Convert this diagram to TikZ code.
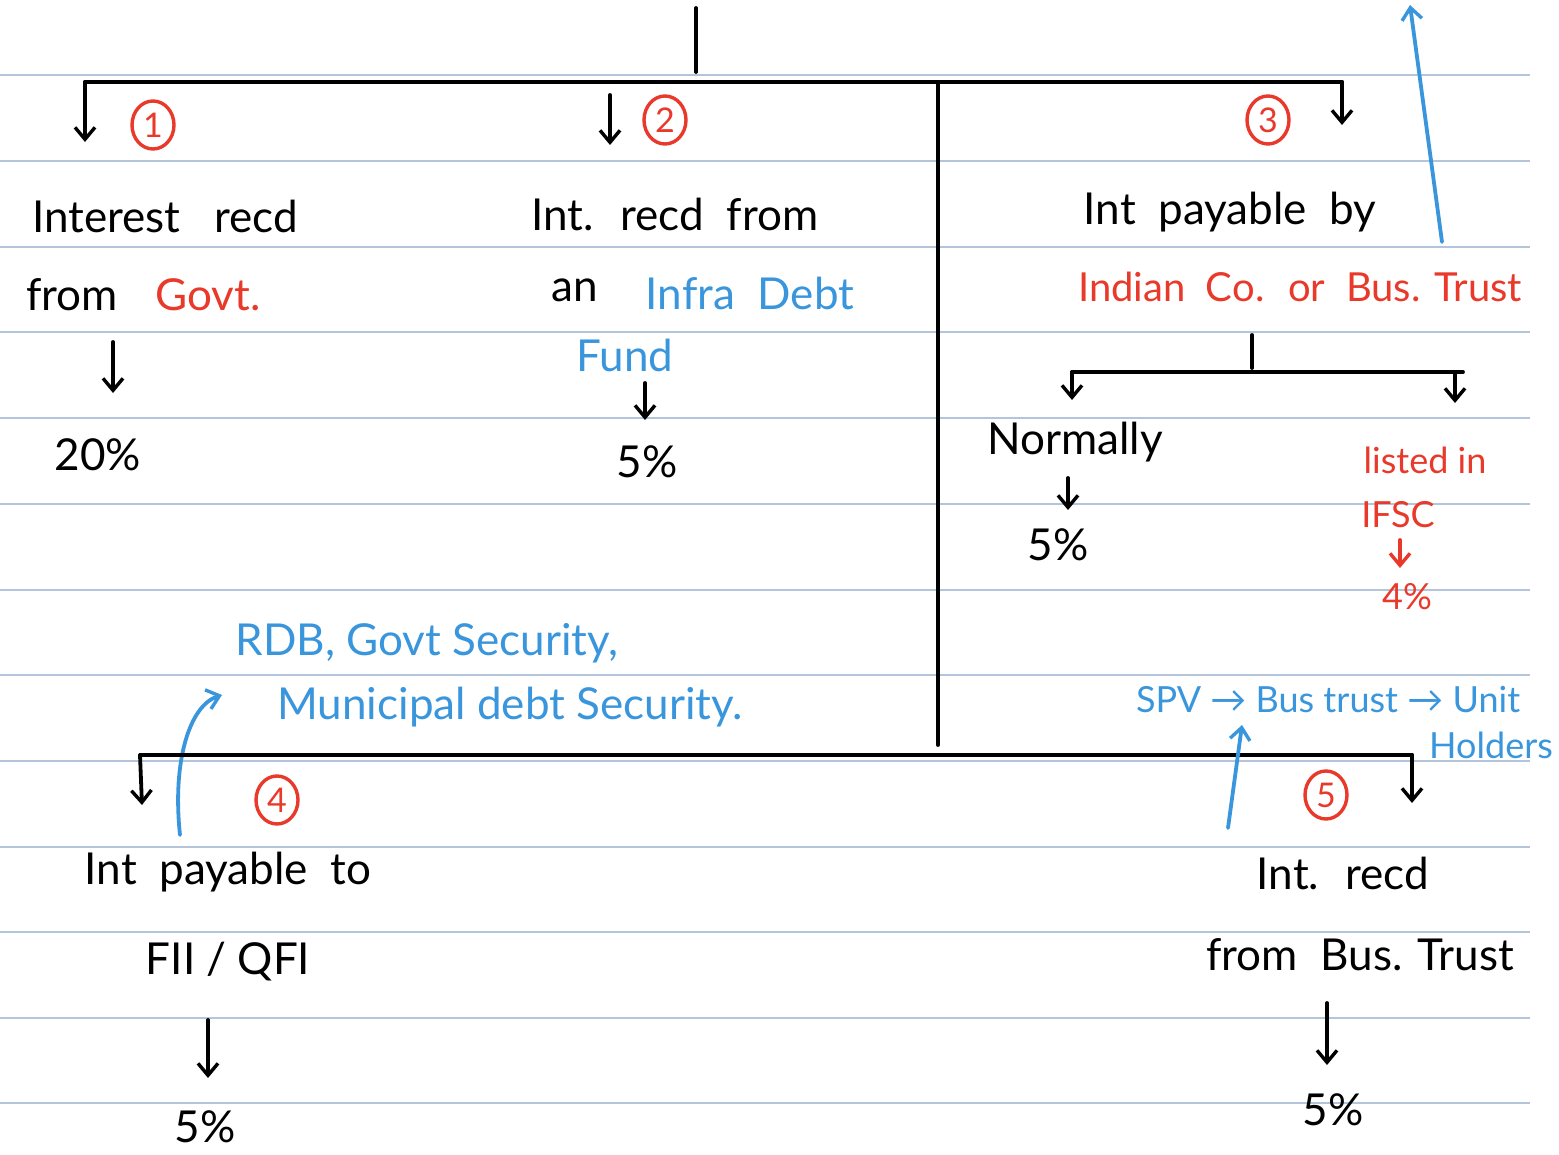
\documentclass[tikz,border=0pt]{standalone}
\usepackage{fontspec}
\setmainfont{Lato}
\usetikzlibrary{arrows.meta,shapes.geometric}
\definecolor{penred}{HTML}{E8392A}
\definecolor{penblue}{HTML}{3A96DC}
\definecolor{ruling}{HTML}{B4C4DA}
\tikzset{
  ink/.style={line width=3.8pt, line cap=round, line join=round},
  arr/.style={ink, -{Straight Barb[length=12pt,width=20pt,line width=3.4pt]}},
  hw/.style={font=\fontsize{44}{50}\selectfont, inner sep=0pt, anchor=center},
  hwmid/.style={font=\fontsize{40}{46}\selectfont, inner sep=0pt, anchor=center},
  hwsmall/.style={font=\fontsize{36}{42}\selectfont, inner sep=0pt, anchor=center},
  num/.style={draw=penred, text=penred, ellipse, line width=3.4pt, minimum width=42pt, minimum height=48pt, inner sep=0pt, font=\fontsize{34}{34}\selectfont},
  rule/.style={draw=ruling, line width=1.2pt}
}
\begin{document}
\begin{tikzpicture}[x=1pt,y=-1pt]
\useasboundingbox (0,0) rectangle (1559,1155);
% ruled paper
\foreach \yy in {75,161,247,332,418,504,590,675,761,847,932,1018,1103}
  \draw[rule] (0,\yy) -- (1530,\yy);

% top tree
\coordinate (top) at (696,8);
\coordinate (topj) at (696,72);
\draw[ink] (top) -- (topj);
\coordinate (bl) at (85,82);
\coordinate (br) at (1342,82);
\coordinate (b1) at (85,142);
\coordinate (b3) at (1342,125);
\draw[ink] (b1 |- bl) -- (br);
\draw[arr] (bl) -- (b1);
\draw[arr] (br) -- (b3);
\coordinate (a2s) at (610,95);
\coordinate (a2e) at (610,145);
\draw[arr] (a2s) -- (a2e);
\coordinate (divt) at (938,84);
\coordinate (divb) at (938,745);
\draw[ink] (divt) -- (divb);

\node[num] (n1) at (153,125) {1};
\node[num] (n2) at (665,120) {2};
\node[num] (n3) at (1268,120) {3};

% branch 1
\node[hw] (t1a) at (165,216) {Interest \ \ recd};
\node[hw] (t1b) at (72,295) {from};
\node[hw, text=penred] (t1c) at (208,295) {Govt.};
\draw[arr] (113,342) -- (113,393);
\node[hw] (p1) at (98,455) {20\%};

% branch 2
\node[hw] (t2a) at (675,214) {Int. \ recd \ from};
\node[hw] (t2b) at (575,290) {an};
\node[hw, text=penblue] (t2c) at (750,293) {Infra \ Debt};
\node[hw, text=penblue] (t2d) at (625,355) {Fund};
\draw[arr] (645,383) -- (645,420);
\node[hw] (p2) at (647,462) {5\%};

% branch 3
\node[hw] (t3a) at (1230,212) {Int \ payable \ by};
\node[hwmid, text=penred] (t3b) at (1300,287) {Indian \ Co. \ or \ Bus. Trust};
\coordinate (s3t) at (1252,335);
\coordinate (s3j) at (1252,368);
\draw[ink] (s3t) -- (s3j);
\coordinate (s3l) at (1072,372);
\coordinate (s3r) at (1455,372);
\draw[ink] (s3l) -- (1463,372);
\draw[arr] (s3l) -- (1072,400);
\draw[arr] (s3r) -- (1455,403);
\node[hw] (nor) at (1075,442) {Normally};
\draw[arr] (1068,478) -- (1068,510);
\node[hw] (p3a) at (1058,545) {5\%};
\node[hwsmall, text=penred] (lis) at (1425,460) {listed in};
\node[hwsmall, text=penred] (ifsc) at (1398,515) {IFSC};
\draw[arr, draw=penred] (1400,540) -- (1400,568);
\node[hwsmall, text=penred] (p3b) at (1407,597) {4\%};
\coordinate (bt) at (1410,5);
\draw[arr, draw=penblue] (1442,242) -- (bt);

% blue notes
\node[hw, text=penblue] (rdb) at (427,643) {RDB, Govt Security,};
\node[hw, text=penblue] (mun) at (510,707) {Municipal debt Security.};
\coordinate (cs) at (180,835);
\coordinate (ce) at (222,695);
\draw[arr, draw=penblue] (cs) .. controls (172,760) and (190,705) .. (ce);

% bottom tree
\coordinate (ql) at (140,755);
\coordinate (qr) at (1412,755);
\draw[ink] (ql) -- (qr);
\draw[arr] (ql) -- (142,805);
\draw[arr] (qr) -- (1412,803);
\node[num] (n4) at (277,800) {4};
\node[num] (n5) at (1326,795) {5};

\node[hw] (t4a) at (228,872) {Int \ payable \ to};
\node[hw] (t4b) at (228,962) {FII / QFI};
\draw[arr] (208,1020) -- (208,1078);
\node[hw] (p4) at (205,1127) {5\%};

\node[hw] (t5a) at (1343,873) {Int. \ recd};
\node[hw] (t5b) at (1360,955) {from \ Bus. Trust};
\draw[arr] (1327,1003) -- (1327,1065);
\node[hw] (p5) at (1333,1110) {5\%};

\node[hwsmall, text=penblue] (spv) at (1328,700) {SPV → Bus trust → Unit};
\node[hwsmall, text=penblue, anchor=east] (hold) at (1553,745) {Holders};
\coordinate (sa) at (1228,828);
\draw[arr, draw=penblue] (sa) -- (1242,725);
\end{tikzpicture}
\end{document}
